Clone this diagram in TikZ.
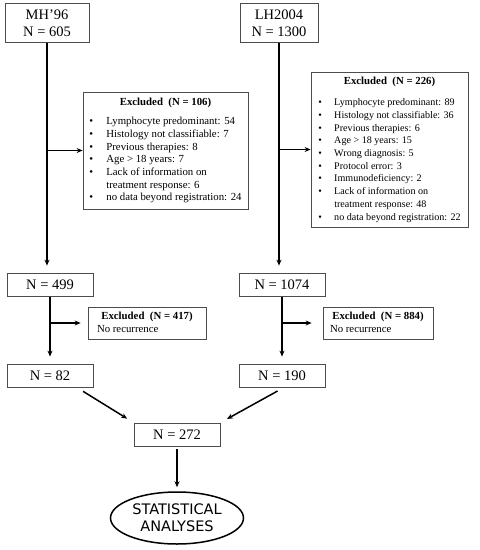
\documentclass[tikz,border=0pt]{standalone}
\usepackage{fontspec}
\setmainfont{Liberation Serif}
\newfontfamily\ellfont{DejaVu Sans}
\usetikzlibrary{arrows.meta,shapes.geometric}

\begin{document}
\begin{tikzpicture}[
  x=1pt,y=-1pt,
  box/.style={draw=black!70,line width=0.8pt,align=center,inner sep=0pt,
    font=\fontsize{14.5}{17}\selectfont},
  nbox/.style={box,minimum width=86pt,minimum height=23pt},
  exbox/.style={draw=black!70,line width=0.8pt,inner sep=0pt},
  arr/.style={-{Stealth[length=6pt,width=5pt]},line width=1.5pt}]
  \useasboundingbox (0,0) rectangle (480,550);
  \node[box,minimum width=84pt,minimum height=39pt] (mh) at (47,23) {MH’96\\N = 605};
  \node[box,minimum width=78pt,minimum height=39pt] (lh) at (279,23) {LH2004\\N = 1300};
  \node[exbox,minimum width=165pt,minimum height=117pt] (ex1) at (165.5,150.5) {%
    \fontsize{10.8}{12.7}\selectfont
    \begin{tabular}{@{}p{17pt}@{}l@{}}
      \multicolumn{2}{c}{\textbf{Excluded\ \ (N = 106)}}\\[7pt]
      \textbullet & Lymphocyte predominant: 54\\
      \textbullet & Histology not classifiable: 7\\
      \textbullet & Previous therapies: 8\\
      \textbullet & Age > 18 years: 7\\
      \textbullet & Lack of information on\\
                  & treatment response: 6\\
      \textbullet & no data beyond registration: 24
    \end{tabular}};
  \node[exbox,minimum width=157pt,minimum height=155pt] (ex2) at (389.5,149.5) {%
    \fontsize{10.1}{12.7}\selectfont
    \begin{tabular}{@{}p{16pt}@{}l@{}}
      \multicolumn{2}{c}{\fontsize{10.8}{12.7}\selectfont\textbf{Excluded\ \ (N = 226)}}\\[9pt]
      \textbullet & Lymphocyte predominant: 89\\
      \textbullet & Histology not classifiable: 36\\
      \textbullet & Previous therapies: 6\\
      \textbullet & Age > 18 years: 15\\
      \textbullet & Wrong diagnosis: 5\\
      \textbullet & Protocol error: 3\\
      \textbullet & Immunodeficiency: 2\\
      \textbullet & Lack of information on\\
                  & treatment response: 48\\
      \textbullet & no data beyond registration: 22
    \end{tabular}};
  \node[nbox] (n499) at (50,284.5) {N = 499};
  \node[nbox] (n1074) at (282,284.5) {N = 1074};
  \node[exbox,minimum width=118pt,minimum height=32pt] (ex3) at (147,323) {%
    \fontsize{10.8}{13}\selectfont
    \begin{tabular}{@{}p{100pt}@{}}
      \multicolumn{1}{@{}c@{}}{\textbf{Excluded\ \ (N = 417)}}\\
      No recurrence
    \end{tabular}};
  \node[exbox,minimum width=110pt,minimum height=32pt] (ex4) at (378,323) {%
    \fontsize{10.8}{13}\selectfont
    \begin{tabular}{@{}p{96pt}@{}}
      \multicolumn{1}{@{}c@{}}{\textbf{Excluded\ \ (N = 884)}}\\
      No recurrence
    \end{tabular}};
  \node[nbox] (n82) at (50,375.5) {N = 82};
  \node[nbox] (n190) at (282,375.5) {N = 190};
  \node[nbox] (n272) at (177,434.5) {N = 272};
  \node[draw,ellipse,line width=1.5pt,minimum width=133pt,minimum height=52pt,inner sep=0pt,
    align=center,font=\ellfont\fontsize{14.5}{17}\selectfont] (stat) at (177,518) {STATISTICAL\\ANALYSES};
  \draw[arr,shorten >=7pt] (mh.south) -- (mh.south |- n499.north);
  \draw[arr,shorten >=7pt] (lh.south) -- (lh.south |- n1074.north);
  \draw[arr] (mh.south |- ex1.west) -- (ex1.west);
  \draw[arr] (lh.south |- ex2.west) -- (ex2.west);
  \draw[arr,shorten <=1pt,shorten >=7pt] (n499.south) -- (n82.north);
  \draw[arr,shorten <=1pt,shorten >=7pt] (n1074.south) -- (n190.north);
  \draw[arr,shorten >=7pt] (n499.south |- ex3.west) -- (ex3.west);
  \draw[arr,shorten >=11pt] (n1074.south |- ex4.west) -- (ex4.west);
  \draw[arr,shorten <=7.5pt,shorten >=7.5pt] (n82.-24) -- (n272.north west);
  \draw[arr,shorten <=7.5pt,shorten >=7.5pt] (n190.-80) -- (n272.north east);
  \draw[arr,shorten <=3pt,shorten >=4pt] (n272.south) -- (stat.north);
\end{tikzpicture}
\end{document}
